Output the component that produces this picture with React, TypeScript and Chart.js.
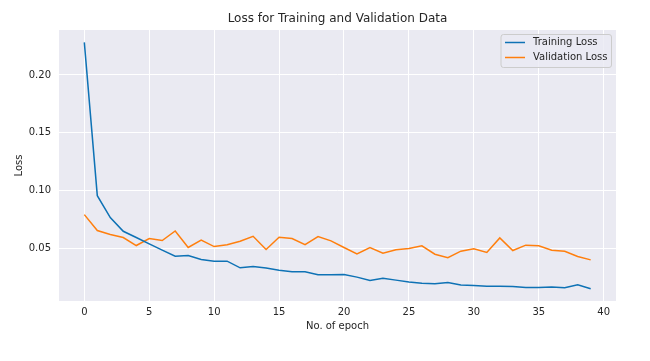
import React, { useEffect, useRef } from "react";
import { Chart, registerables } from "chart.js";

Chart.register(...registerables);

const epochs = Array.from({ length: 40 }, (_, i) => i);

const trainingLoss = [
  0.2282, 0.0957, 0.0767, 0.0649, 0.0595, 0.054, 0.0486, 0.0434, 0.044, 0.0405,
  0.0391, 0.0391, 0.0333, 0.0345, 0.0331, 0.0313, 0.0299, 0.0299, 0.0273, 0.0273,
  0.0276, 0.0253, 0.0224, 0.0244, 0.0227, 0.021, 0.0201, 0.0196, 0.0207, 0.0184,
  0.0181, 0.0175, 0.0175, 0.0172, 0.0164, 0.0164, 0.0167, 0.0161, 0.0187, 0.0153,
];

const validationLoss = [
  0.0793, 0.0655, 0.0621, 0.0595, 0.0526, 0.0586, 0.0569, 0.0652, 0.0509, 0.0572,
  0.0517, 0.0532, 0.0563, 0.0606, 0.0491, 0.0597, 0.0586, 0.0534, 0.0603, 0.0566,
  0.0509, 0.0454, 0.0509, 0.046, 0.0489, 0.05, 0.0523, 0.0451, 0.042, 0.0477,
  0.0497, 0.0466, 0.0592, 0.0483, 0.0529, 0.0523, 0.0486, 0.0477, 0.0431, 0.0402,
];

const xTicks = [0, 5, 10, 15, 20, 25, 30, 35, 40];
const yTicks = [0.05, 0.1, 0.15, 0.2];

const seriesLabels = ["Training Loss", "Validation Loss"];
const seriesColors = ["#0e72b5", "#ff7f0e"];

const TEXT = "#262626";
const FONT = "'DejaVu Sans', sans-serif";

function margins(values: number[]) {
  const lo = Math.min(...values);
  const hi = Math.max(...values);
  const m = (hi - lo) * 0.05;
  return [lo - m, hi + m];
}

const bgPlugin = {
  id: "plotBg",
  afterLayout(chart: any) {
    const tb = chart.titleBlock;
    if (tb) {
      tb.left = chart.chartArea.left;
      tb.right = chart.chartArea.right;
      tb.width = chart.chartArea.right - chart.chartArea.left;
    }
  },
  beforeDraw(chart: any) {
    const { ctx, chartArea } = chart;
    ctx.save();
    ctx.fillStyle = "#EAEAF2";
    ctx.fillRect(chartArea.left, chartArea.top, chartArea.right - chartArea.left, chartArea.bottom - chartArea.top);
    ctx.restore();
  },
};

const legendPlugin = {
  id: "mplLegend",
  afterDatasetsDraw(chart: any) {
    const { ctx, chartArea } = chart;
    ctx.save();
    ctx.font = `10px ${FONT}`;
    const labels = chart.data.datasets.map((d: any) => d.label);
    const textW = Math.max(...labels.map((l: string) => ctx.measureText(l).width));
    const pad = 4;
    const handle = 20;
    const gap = 8;
    const rowH = 15;
    const w = pad + handle + gap + textW + pad;
    const h = 33;
    const x = chartArea.right - 4.5 - w;
    const y = chartArea.top + 4.5;
    const r = 2.5;
    ctx.beginPath();
    ctx.moveTo(x + r, y);
    ctx.lineTo(x + w - r, y);
    ctx.quadraticCurveTo(x + w, y, x + w, y + r);
    ctx.lineTo(x + w, y + h - r);
    ctx.quadraticCurveTo(x + w, y + h, x + w - r, y + h);
    ctx.lineTo(x + r, y + h);
    ctx.quadraticCurveTo(x, y + h, x, y + h - r);
    ctx.lineTo(x, y + r);
    ctx.quadraticCurveTo(x, y, x + r, y);
    ctx.closePath();
    ctx.fillStyle = "rgba(234,234,242,0.8)";
    ctx.fill();
    ctx.strokeStyle = "#cccccc";
    ctx.lineWidth = 1;
    ctx.stroke();
    chart.data.datasets.forEach((d: any, i: number) => {
      const cy = y + 8 + rowH * i;
      ctx.strokeStyle = d.borderColor;
      ctx.lineWidth = 1.5;
      ctx.beginPath();
      ctx.moveTo(x + pad, cy);
      ctx.lineTo(x + pad + handle, cy);
      ctx.stroke();
      ctx.fillStyle = TEXT;
      ctx.textBaseline = "middle";
      ctx.textAlign = "left";
      ctx.fillText(d.label, x + pad + handle + gap, cy);
    });
    ctx.restore();
  },
};

export default function App() {
  const ref = useRef<HTMLCanvasElement>(null);

  useEffect(() => {
    document.body.style.margin = "0";
    const canvas = ref.current!;
    const [xMin, xMax] = margins(epochs);
    const [yMin, yMax] = margins([...trainingLoss, ...validationLoss]);
    const chart = new Chart(canvas, {
      type: "line",
      data: {
        datasets: [
          {
            label: seriesLabels[0],
            data: epochs.map((e, i) => ({ x: e, y: trainingLoss[i] })),
            borderColor: seriesColors[0],
            backgroundColor: seriesColors[0],
            borderWidth: 1.5,
            pointRadius: 0,
            tension: 0,
          },
          {
            label: seriesLabels[1],
            data: epochs.map((e, i) => ({ x: e, y: validationLoss[i] })),
            borderColor: seriesColors[1],
            backgroundColor: seriesColors[1],
            borderWidth: 1.5,
            pointRadius: 0,
            tension: 0,
          },
        ],
      },
      options: {
        responsive: false,
        animation: false,
        layout: { padding: { left: 0, right: 34, top: 0, bottom: 0 } },
        plugins: {
          legend: { display: false },
          tooltip: { enabled: false },
          title: {
            display: true,
            text: "Loss for Training and Validation Data",
            color: TEXT,
            font: { family: FONT, size: 12, weight: "normal" },
            padding: { top: 12, bottom: 3.6 },
          },
        },
        scales: {
          x: {
            type: "linear",
            min: xMin,
            max: xMax,
            afterBuildTicks: (s: any) => {
              s.ticks = xTicks.map((v) => ({ value: v }));
            },
            afterFit: (s: any) => {
              s.height = 60;
            },
            grid: { color: "#ffffff", lineWidth: 1, drawTicks: false },
            border: { display: false },
            ticks: {
              color: TEXT,
              font: { family: FONT, size: 10 },
              padding: 5,
              maxRotation: 0,
              callback: (v: any) => String(v),
            },
            title: {
              display: true,
              text: "No. of epoch",
              color: TEXT,
              font: { family: FONT, size: 10 },
              padding: { top: 0, bottom: 29 },
            },
          },
          y: {
            type: "linear",
            min: yMin,
            max: yMax,
            afterBuildTicks: (s: any) => {
              s.ticks = yTicks.map((v) => ({ value: v }));
            },
            afterFit: (s: any) => {
              s.width = 59;
            },
            grid: { color: "#ffffff", lineWidth: 1, drawTicks: false },
            border: { display: false },
            ticks: {
              color: TEXT,
              font: { family: FONT, size: 10 },
              padding: 8,
              callback: (v: any) => Number(v).toFixed(2),
            },
            title: {
              display: true,
              text: "Loss",
              color: TEXT,
              font: { family: FONT, size: 10 },
              padding: { top: 13, bottom: 0 },
            },
          },
        },
      },
      plugins: [bgPlugin, legendPlugin],
    });
    return () => chart.destroy();
  }, []);

  return (
    <div style={{ width: 650, height: 361, background: "#ffffff" }}>
      <canvas ref={ref} width={650} height={361} style={{ display: "block" }} />
    </div>
  );
}
